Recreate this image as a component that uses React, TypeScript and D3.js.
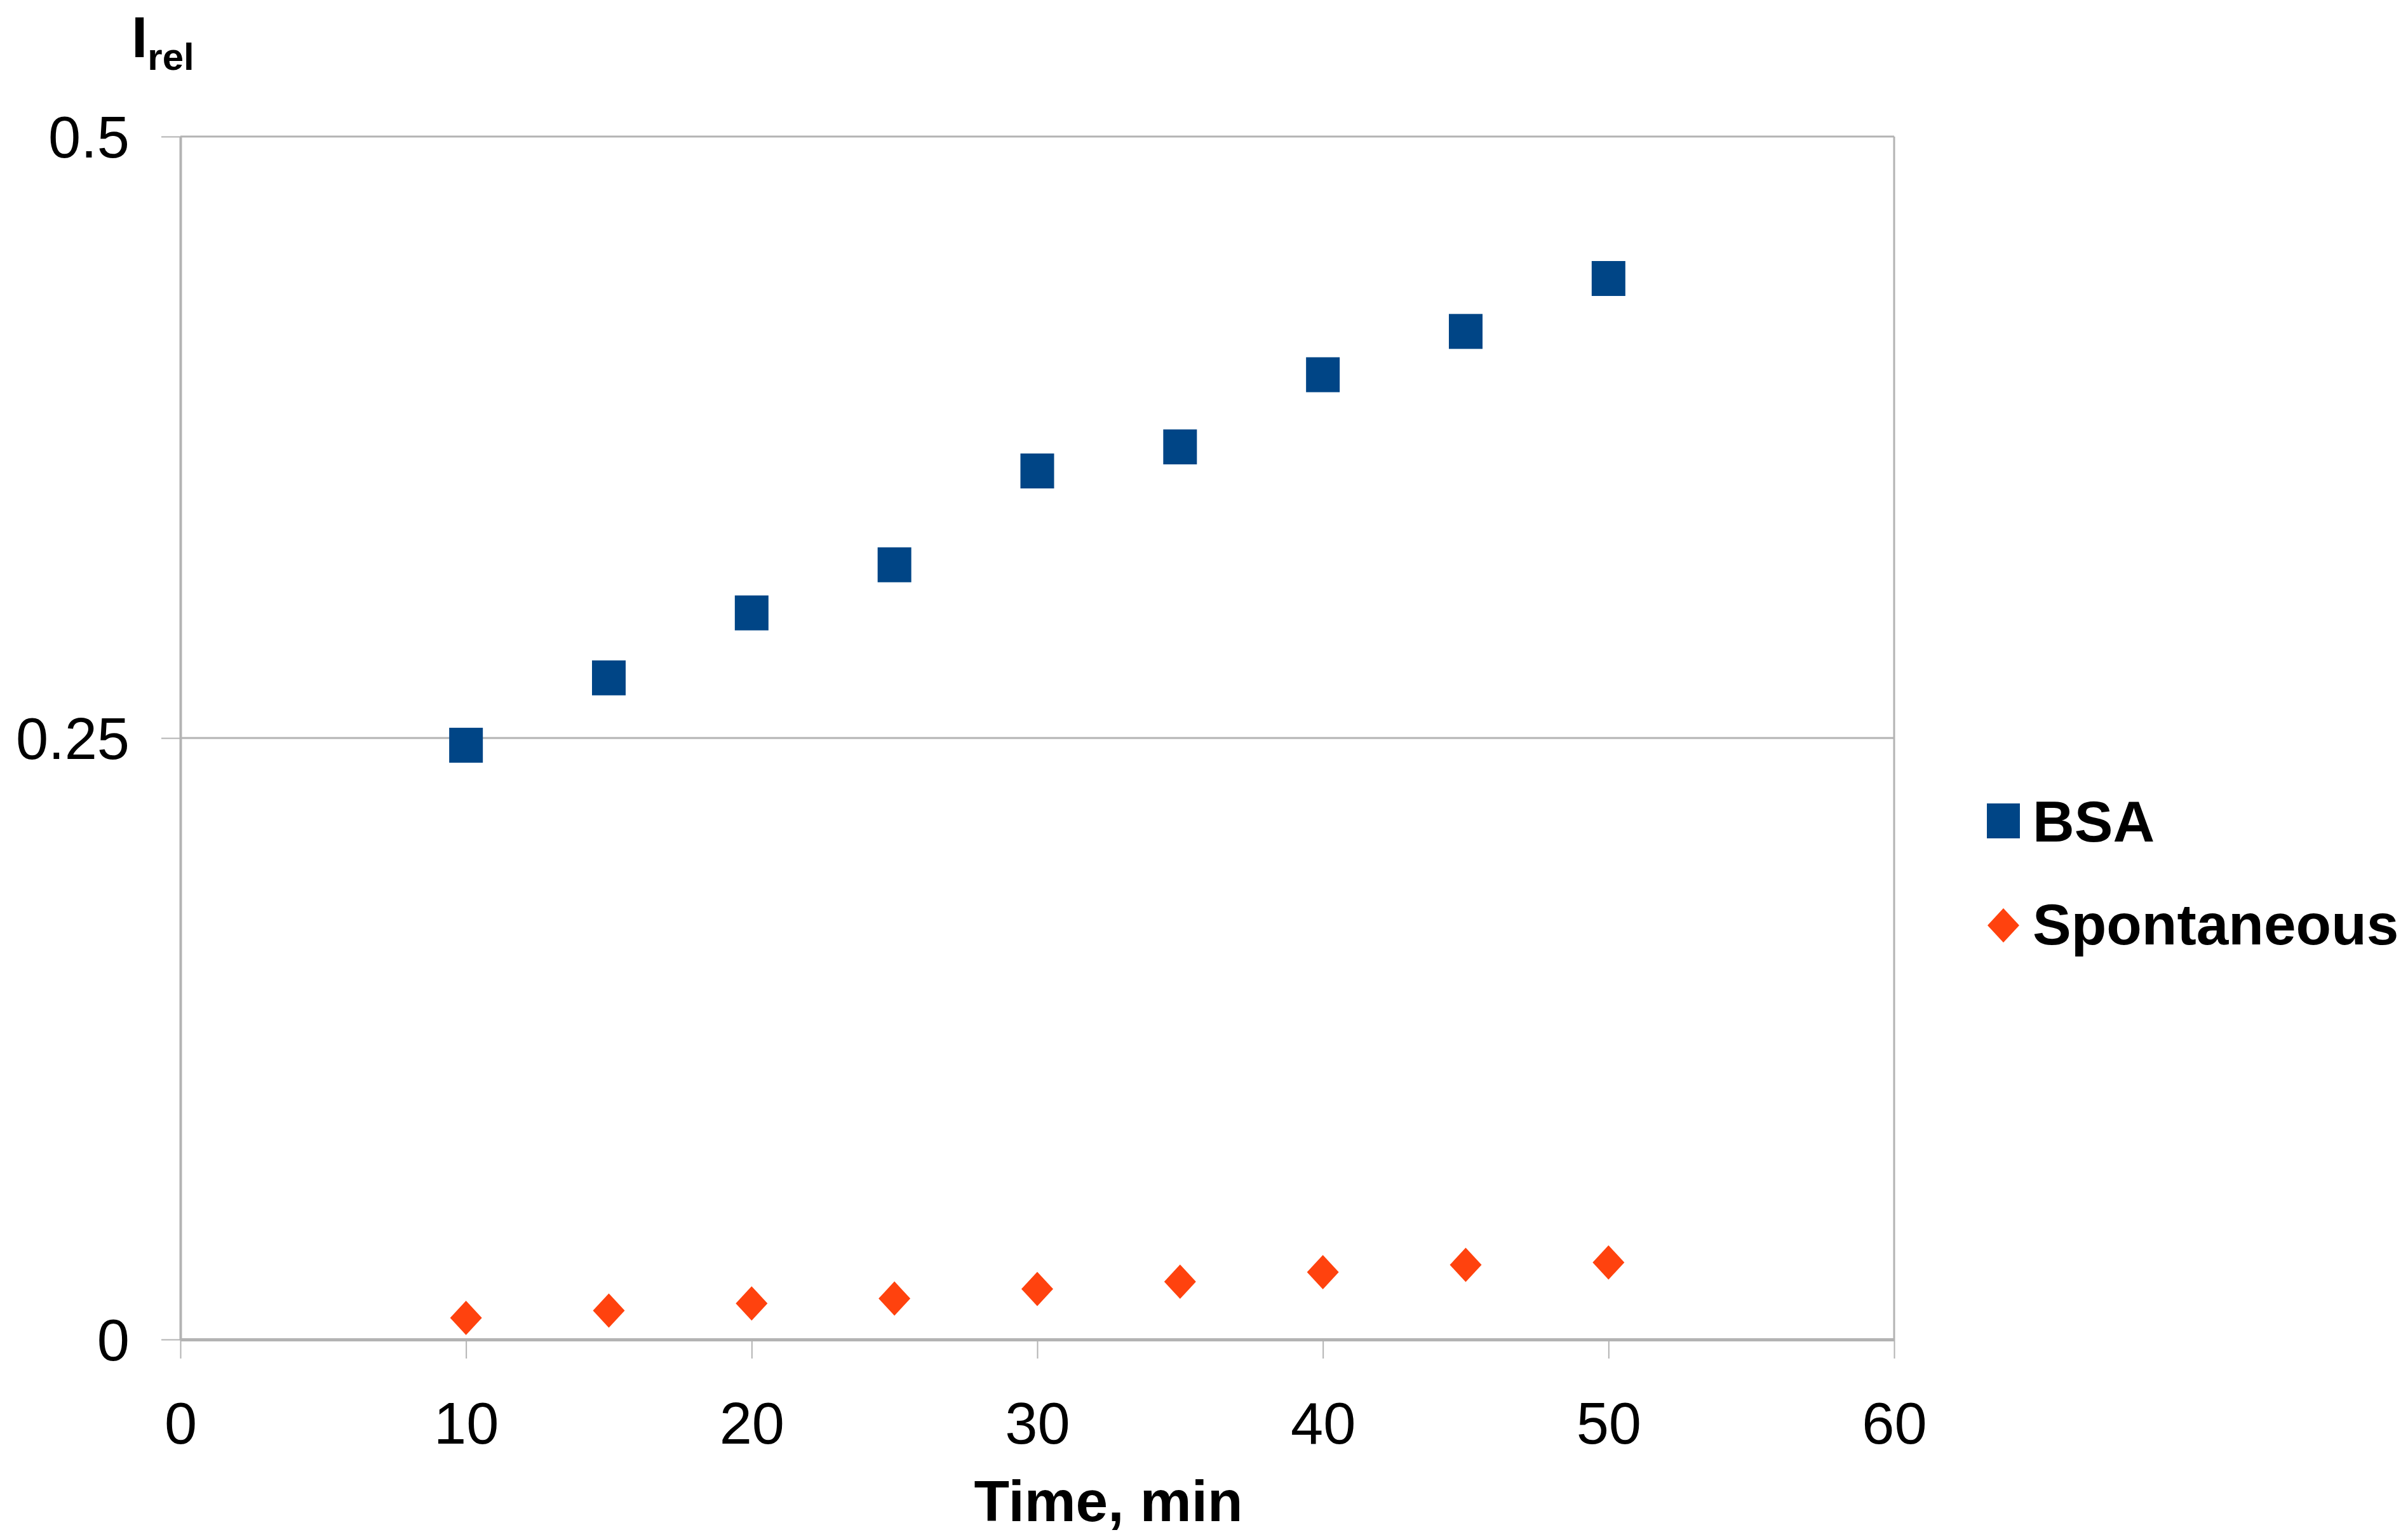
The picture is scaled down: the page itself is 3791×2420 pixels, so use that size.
import React, { useEffect, useRef } from "react";
import * as d3 from "d3";

const times = [10, 15, 20, 25, 30, 35, 40, 45, 50];
const bsaValues = [0.247, 0.275, 0.302, 0.322, 0.361, 0.371, 0.401, 0.419, 0.441];
const spontaneousValues = [0.009, 0.012, 0.015, 0.017, 0.021, 0.024, 0.028, 0.031, 0.032];
const xTicks = [0, 10, 20, 30, 40, 50, 60];
const yTicks = [0, 0.25, 0.5];
const seriesNames = ["BSA", "Spontaneous"];

const BLUE = "#004586";
const ORANGE = "#ff420e";
const GRID = "#b3b3b3";
const FONT = "'Liberation Sans', Arial, sans-serif";

export default function App() {
  const ref = useRef<SVGSVGElement>(null);

  useEffect(() => {
    if (!ref.current) return;
    const W = 3791;
    const H = 2420;
    const margin = { top: 215, right: 809, bottom: 311, left: 284 };
    const svg = d3.select(ref.current);
    svg.selectAll("*").remove();

    const x = d3.scaleLinear().domain([0, 60]).range([margin.left, W - margin.right]);
    const y = d3.scaleLinear().domain([0, 0.5]).range([H - margin.bottom, margin.top]);

    svg.append("rect").attr("width", W).attr("height", H).attr("fill", "#fff");

    // horizontal grid lines
    svg.append("g")
      .selectAll("line")
      .data(yTicks.filter(d => d > 0))
      .enter()
      .append("line")
      .attr("x1", x(0))
      .attr("x2", x(60))
      .attr("y1", d => y(d))
      .attr("y2", d => y(d))
      .attr("stroke", GRID)
      .attr("stroke-width", 3);

    // right border
    svg.append("line")
      .attr("x1", x(60)).attr("x2", x(60))
      .attr("y1", y(0)).attr("y2", y(0.5))
      .attr("stroke", GRID)
      .attr("stroke-width", 3);

    // x axis
    const xAxis = svg.append("g")
      .attr("transform", `translate(0,${y(0)})`)
      .call(d3.axisBottom(x).tickValues(xTicks).tickSize(30).tickSizeOuter(0).tickFormat(d => String(d)));
    xAxis.select(".domain").attr("stroke", GRID).attr("stroke-width", 5);
    xAxis.selectAll(".tick line").attr("stroke", GRID).attr("stroke-width", 2);
    xAxis.selectAll(".tick text")
      .attr("y", 164)
      .attr("dy", null)
      .attr("fill", "#000")
      .style("font-family", FONT)
      .style("font-size", "92px");

    // y axis
    const yAxis = svg.append("g")
      .attr("transform", `translate(${x(0)},0)`)
      .call(d3.axisLeft(y).tickValues(yTicks).tickSize(30).tickSizeOuter(0).tickFormat(d => String(d)));
    yAxis.select(".domain").attr("stroke", GRID).attr("stroke-width", 4);
    yAxis.selectAll(".tick line").attr("stroke", GRID).attr("stroke-width", 2);
    yAxis.selectAll(".tick text")
      .attr("x", -80)
      .attr("dy", 32)
      .attr("fill", "#000")
      .style("font-family", FONT)
      .style("font-size", "92px");

    const diamond = {
      draw(context: any, size: number) {
        const w = Math.sqrt(size) / 2;
        const h = w * 1.08;
        context.moveTo(0, -h);
        context.lineTo(w, 0);
        context.lineTo(0, h);
        context.lineTo(-w, 0);
        context.closePath();
      }
    };
    const diamondPath = d3.symbol().type(diamond as any).size(50 * 50)();

    // BSA squares
    svg.append("g")
      .selectAll("rect")
      .data(times.map((t, i) => ({ t, v: bsaValues[i] })))
      .enter()
      .append("rect")
      .attr("x", d => x(d.t) - 26.5)
      .attr("y", d => y(d.v) - 27.5)
      .attr("width", 53)
      .attr("height", 55)
      .attr("fill", BLUE);

    // Spontaneous diamonds
    svg.append("g")
      .selectAll("path")
      .data(times.map((t, i) => ({ t, v: spontaneousValues[i] })))
      .enter()
      .append("path")
      .attr("transform", d => `translate(${x(d.t)},${y(d.v)})`)
      .attr("d", diamondPath)
      .attr("fill", ORANGE);

    // axis titles
    svg.append("text")
      .attr("x", 1745)
      .attr("y", 2395)
      .attr("text-anchor", "middle")
      .style("font-family", FONT)
      .style("font-size", "91px")
      .style("font-weight", "bold")
      .text("Time, min");

    const yTitle = svg.append("text")
      .attr("x", 207)
      .attr("y", 90)
      .style("font-family", FONT)
      .style("font-weight", "bold");
    yTitle.append("tspan").style("font-size", "91px").text("I");
    yTitle.append("tspan").attr("dy", 20).style("font-size", "60px").text("rel");

    // legend
    const legend = svg.append("g");
    legend.append("rect")
      .attr("x", 3128).attr("y", 1265)
      .attr("width", 52).attr("height", 55)
      .attr("fill", BLUE);
    legend.append("path")
      .attr("transform", "translate(3154,1457)")
      .attr("d", diamondPath)
      .attr("fill", ORANGE);
    legend.selectAll("text")
      .data(seriesNames)
      .enter()
      .append("text")
      .attr("x", 3200)
      .attr("y", (d, i) => (i === 0 ? 1325 : 1487))
      .style("font-family", FONT)
      .style("font-size", "91px")
      .style("font-weight", "bold")
      .text(d => d);
  }, []);

  return (
    <svg
      ref={ref}
      width={3791}
      height={2420}
      style={{ position: "absolute", left: 0, top: 0 }}
    />
  );
}
